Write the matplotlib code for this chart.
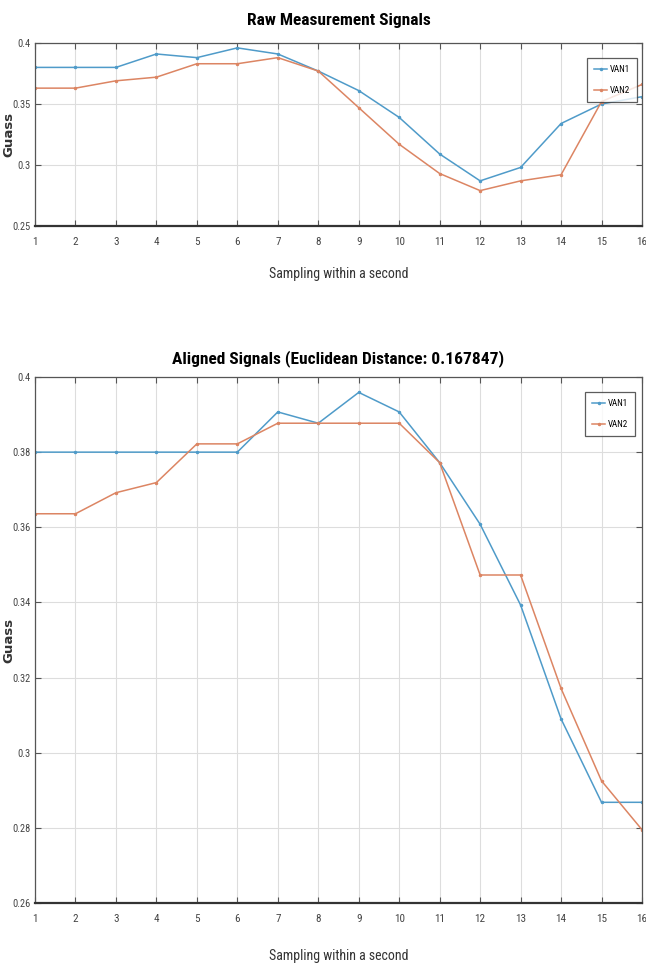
import matplotlib
matplotlib.use("Agg")
import matplotlib.pyplot as plt
from matplotlib import font_manager
from matplotlib.font_manager import FontProperties

samples = list(range(1, 17))

raw_van1 = [0.380, 0.380, 0.380, 0.391, 0.388, 0.396, 0.391, 0.377,
            0.361, 0.339, 0.309, 0.287, 0.298, 0.334, 0.350, 0.356]
raw_van2 = [0.363, 0.363, 0.369, 0.372, 0.383, 0.383, 0.388, 0.377,
            0.347, 0.317, 0.293, 0.279, 0.287, 0.292, 0.352, 0.366]

aligned_van1 = [0.380, 0.380, 0.380, 0.380, 0.380, 0.380, 0.3907, 0.3877,
                0.3959, 0.3907, 0.3772, 0.3608, 0.3393, 0.309, 0.2868, 0.2868]
aligned_van2 = [0.3636, 0.3636, 0.3692, 0.3719, 0.3822, 0.3822, 0.3877, 0.3877,
                0.3877, 0.3877, 0.3772, 0.3473, 0.3473, 0.3171, 0.2925, 0.2795]

raw_yticks = [0.25, 0.3, 0.35, 0.4]
raw_yticklabels = ["0.25", "0.3", "0.35", "0.4"]
al_yticks = [0.26, 0.28, 0.30, 0.32, 0.34, 0.36, 0.38, 0.40]
al_yticklabels = ["0.26", "0.28", "0.3", "0.32", "0.34", "0.36", "0.38", "0.4"]

titles = ["Raw Measurement Signals", "Aligned Signals (Euclidean Distance: 0.167847)"]
xlabel = "Sampling within a second"
ylabel = "Guass"
labels = ["VAN1", "VAN2"]

# pick a narrow font if one exists
names = {f.name for f in font_manager.fontManager.ttflist}
NARROW = None
for cand in ["Liberation Sans Narrow", "Roboto Condensed", "Open Sans Condensed", "DejaVu Sans Condensed"]:
    if cand in names:
        NARROW = dict(family=cand)
        break
if NARROW is None:
    cond = [f for f in font_manager.fontManager.ttflist if "Condensed" in f.fname or "Narrow" in f.fname]
    if cond:
        NARROW = dict(fname=cond[0].fname)
        bolds = [f for f in cond if "Bold" in f.fname and "Oblique" not in f.fname and "Italic" not in f.fname]
        NARROW_B = dict(fname=bolds[0].fname) if bolds else dict(fname=cond[0].fname)
    else:
        NARROW = dict(family="DejaVu Sans")
        NARROW_B = dict(family="DejaVu Sans", weight="bold")
else:
    NARROW_B = dict(NARROW, weight="bold")

def fp(base, size):
    return FontProperties(size=size, **base)

C1 = "#4F9BC9"
C2 = "#DC8563"

fig = plt.figure(figsize=(6.46, 9.67), dpi=100)
W, H = 646, 967

def make_ax(left, top, right, bottom):
    return fig.add_axes([left / W, 1 - bottom / H, (right - left) / W, (bottom - top) / H])

ax1 = make_ax(35, 43, 642, 226)
ax2 = make_ax(35, 377, 642, 903)

def style(ax, yticks, ylabels, ylim, title, legend_anchor, title_pad, xlabelpad):
    ax.set_xlim(1, 16)
    ax.set_ylim(*ylim)
    ax.set_xticks(samples)
    ax.set_xticklabels([str(s) for s in samples], fontproperties=fp(NARROW, 8), color="#444444")
    ax.set_yticks(yticks)
    ax.set_yticklabels(ylabels, fontproperties=fp(NARROW, 7.5), color="#444444")
    ax.grid(True, color="#dddddd", linewidth=0.8)
    ax.tick_params(direction="in", top=True, right=True, length=4, width=0.8, colors="#555555", pad=3)
    ax.tick_params(axis="x", pad=8)
    for lab in ax.get_xticklabels() + ax.get_yticklabels():
        lab.set_color("#444444")
    for s in ax.spines.values():
        s.set_color("#555555")
        s.set_linewidth(0.9)
    ax.spines["bottom"].set_linewidth(1.6)
    ax.spines["bottom"].set_color("#333333")
    ax.set_title(title, fontproperties=fp(NARROW_B, 12.5), pad=title_pad)
    ax.set_xlabel(xlabel, fontproperties=fp(NARROW, 10), color="#333333", labelpad=xlabelpad)
    ax.set_ylabel(ylabel, fontsize=9.5, fontweight="bold", color="#333333")
    leg = ax.legend(loc="upper right", bbox_to_anchor=legend_anchor,
                    prop=fp(NARROW, 6.5), frameon=True, fancybox=False,
                    handlelength=1.4, handletextpad=0.3, borderpad=0.8, labelspacing=1.3,
                    borderaxespad=0)
    leg.get_frame().set_edgecolor("#333333")
    leg.get_frame().set_linewidth(0.9)

ax1.plot(samples, raw_van1, color=C1, marker=".", markersize=3, linewidth=1.1, label=labels[0])
ax1.plot(samples, raw_van2, color=C2, marker=".", markersize=3, linewidth=1.1, label=labels[1])
style(ax1, raw_yticks, raw_yticklabels, (0.25, 0.4), titles[0],
      ((637 - 35) / 607, 1 - (58 - 43) / 183), 13, 14)

ax2.plot(samples, aligned_van1, color=C1, marker=".", markersize=3, linewidth=1.1, label=labels[0])
ax2.plot(samples, aligned_van2, color=C2, marker=".", markersize=3, linewidth=1.1, label=labels[1])
style(ax2, al_yticks, al_yticklabels, (0.26, 0.4), titles[1],
      ((635 - 35) / 607, 1 - (392 - 377) / 526), 10, 18)
ax1.yaxis.set_label_coords(-0.033, 0.5)
ax2.yaxis.set_label_coords(-0.033, 0.5)

fig.savefig("out.png", dpi=100)
